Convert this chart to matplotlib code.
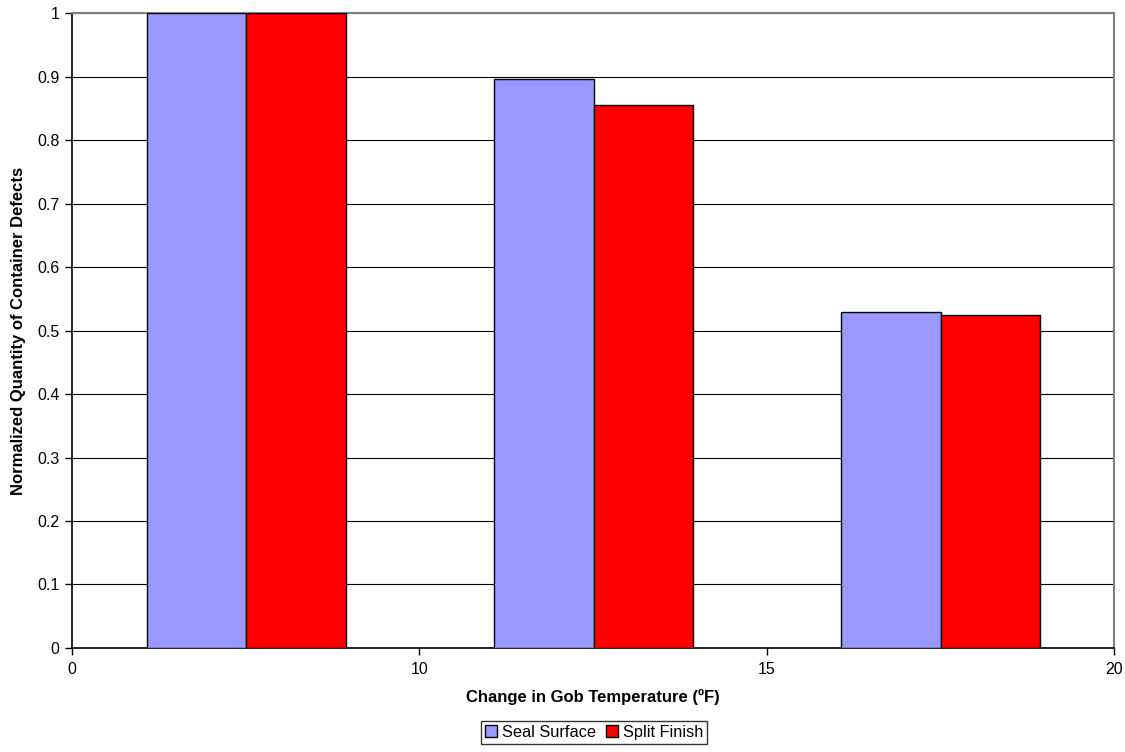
import matplotlib
matplotlib.use("Agg")
import matplotlib.pyplot as plt
from matplotlib.patches import Patch
import numpy as np

plt.rcParams['font.family'] = ['Liberation Sans', 'DejaVu Sans']

categories = ["5", "10", "15"]
tick_labels = ["0", "10", "15", "20"]
seal_surface = [1.0, 0.896, 0.529]
split_finish = [1.0, 0.855, 0.524]
series_names = ["Seal Surface", "Split Finish"]
colors = ["#9999FF", "#FF0000"]

fig = plt.figure(figsize=(11.25, 7.52), dpi=100)
ax = fig.add_axes([0.064, 0.1383, 0.926, 0.8444])

x = np.arange(len(categories)) + 0.5
w = 0.287
ax.bar(x - w/2 + 0.002, seal_surface, width=w, color=colors[0], edgecolor='black', linewidth=1.0, zorder=3)
ax.bar(x + w/2 + 0.002, split_finish, width=w, color=colors[1], edgecolor='black', linewidth=1.0, zorder=3)

ax.set_xlim(0, len(categories))
ax.set_ylim(0, 1)
ax.set_yticks(np.arange(0, 1.01, 0.1))
ax.set_yticklabels(["0", "0.1", "0.2", "0.3", "0.4", "0.5", "0.6", "0.7", "0.8", "0.9", "1"])
ax.set_xticks(np.arange(len(categories) + 1))
ax.set_xticklabels(tick_labels)
ax.yaxis.grid(True, color='black', linewidth=0.8, zorder=0)
ax.tick_params(axis='both', direction='out', length=5, width=1, labelsize=11.5, colors='black')
ax.tick_params(axis='x', pad=5)
ax.tick_params(axis='y', pad=4)
for s in ['left', 'bottom']:
    ax.spines[s].set_color('black')
    ax.spines[s].set_linewidth(1.2)
for s in ['top', 'right']:
    ax.spines[s].set_color('#808080')
    ax.spines[s].set_linewidth(1.5)

ax.set_xlabel("Change in Gob Temperature (ºF)", fontsize=12, fontweight='bold', labelpad=9)
ax.set_ylabel("Normalized Quantity of Container Defects", fontsize=12, fontweight='bold', labelpad=8)

handles = [Patch(facecolor=colors[i], edgecolor='black', label=series_names[i]) for i in range(2)]
leg = fig.legend(handles=handles, loc='center', bbox_to_anchor=(0.528, 0.026), ncol=2,
                 frameon=True, fancybox=False, edgecolor='black', fontsize=11.8,
                 handlelength=0.75, handleheight=0.75, handletextpad=0.3, columnspacing=0.6,
                 borderpad=0.25, borderaxespad=0)
leg.get_frame().set_linewidth(1.0)

fig.savefig("out.png", dpi=100)
